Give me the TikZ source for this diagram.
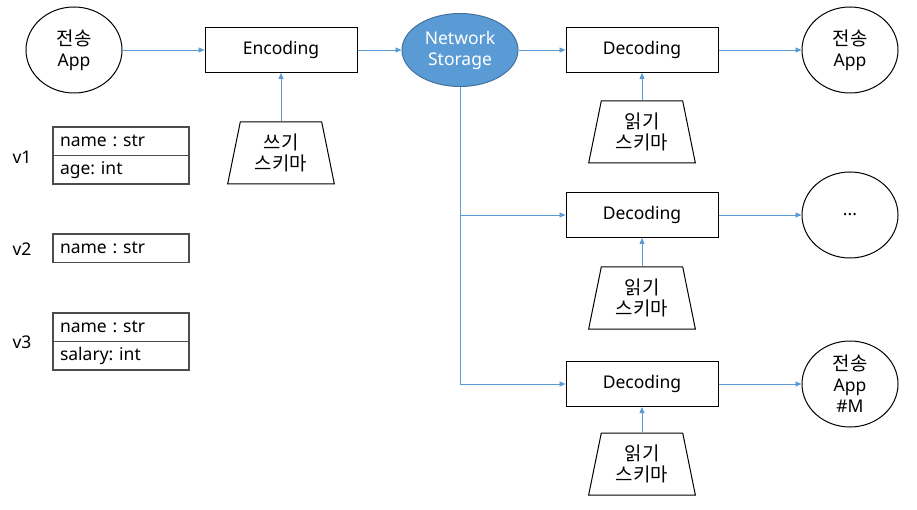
\documentclass[tikz,border=0pt]{standalone}
\usepackage{fontspec}
\setmainfont{Noto Sans}
\newfontfamily\kr[Scale=1.08]{Noto Sans CJK KR}
\usetikzlibrary{shapes.geometric,arrows.meta}
\definecolor{flowblue}{HTML}{5B9BD5}
\definecolor{storeedge}{HTML}{41719C}
\frenchspacing
\begin{document}
\begin{tikzpicture}[x=1pt,y=-1pt,line width=1pt,
   font=\fontsize{17.5}{21}\selectfont,
   app/.style={draw,ellipse,minimum width=96pt,minimum height=86pt,align=center,inner sep=0pt},
   coder/.style={draw,minimum width=152pt,minimum height=45pt},
   schema/.style={draw,trapezium,trapezium left angle=78,trapezium right angle=78,
      trapezium stretches=true,minimum width=107pt,minimum height=62pt,align=center,inner sep=0pt},
   field/.style={draw=black!70,line width=1.2pt,outer sep=0pt,minimum width=136pt,minimum height=28.5pt,
      text width=122pt,inner xsep=7pt,inner ysep=0pt,align=left,anchor=north},
   flow/.style={draw=flowblue,line width=0.8pt,-{Triangle[length=6pt,width=5pt]}}]
\useasboundingbox (0,0) rectangle (917,510);

% writer side
\node[app] (src) at (74,50) {{\kr 전송}\\App};
\node[coder] (enc) at (281,50) {Encoding};
\node[schema] (wschema) at (281,153) {\kr 쓰기\\\kr 스키마};
\node[draw=storeedge,fill=flowblue,ellipse,text=white,minimum width=116pt,minimum height=73pt,
   align=center,inner sep=0pt] (store) at (460,50) {Network\\Storage};

% readers
\node[coder] (dec1) at (642,50) {Decoding};
\node[coder] (dec2) at (642,215) {Decoding};
\node[coder] (dec3) at (642,384) {Decoding};
\node[schema] (rschema1) at (642,132) {\kr 읽기\\\kr 스키마};
\node[schema] (rschema2) at (642,298) {\kr 읽기\\\kr 스키마};
\node[schema] (rschema3) at (642,464) {\kr 읽기\\\kr 스키마};
\node[app] (dst1) at (850,50) {{\kr 전송}\\App};
\node[app] (dst2) at (850,215) {...};
\node[app] (dst3) at (850,384) {{\kr 전송}\\App\\\#M};

% schema versions
\node (v1) at (22,157) {v1};
\node[field] (v1name) at (121,127) {name : str};
\node[field] (v1age) at (v1name.south) {age: int};
\node (v2) at (22,249) {v2};
\node[field] (v2name) at (121,234) {name : str};
\node (v3) at (22,342) {v3};
\node[field] (v3name) at (121,313) {name : str};
\node[field] (v3salary) at (v3name.south) {salary: int};

\draw[flow] (src) -- (enc);
\draw[flow] (enc) -- (store);
\draw[flow] (wschema) -- (enc);
\draw[flow] (store) -- (dec1);
\draw[flow] (store.south) |- (dec2);
\draw[flow] (store.south) |- (dec3);
\draw[flow] (rschema1) -- (dec1);
\draw[flow] (rschema2) -- (dec2);
\draw[flow] (rschema3) -- (dec3);
\draw[flow] (dec1) -- (dst1);
\draw[flow] (dec2) -- (dst2);
\draw[flow] (dec3) -- (dst3);
\end{tikzpicture}
\end{document}
